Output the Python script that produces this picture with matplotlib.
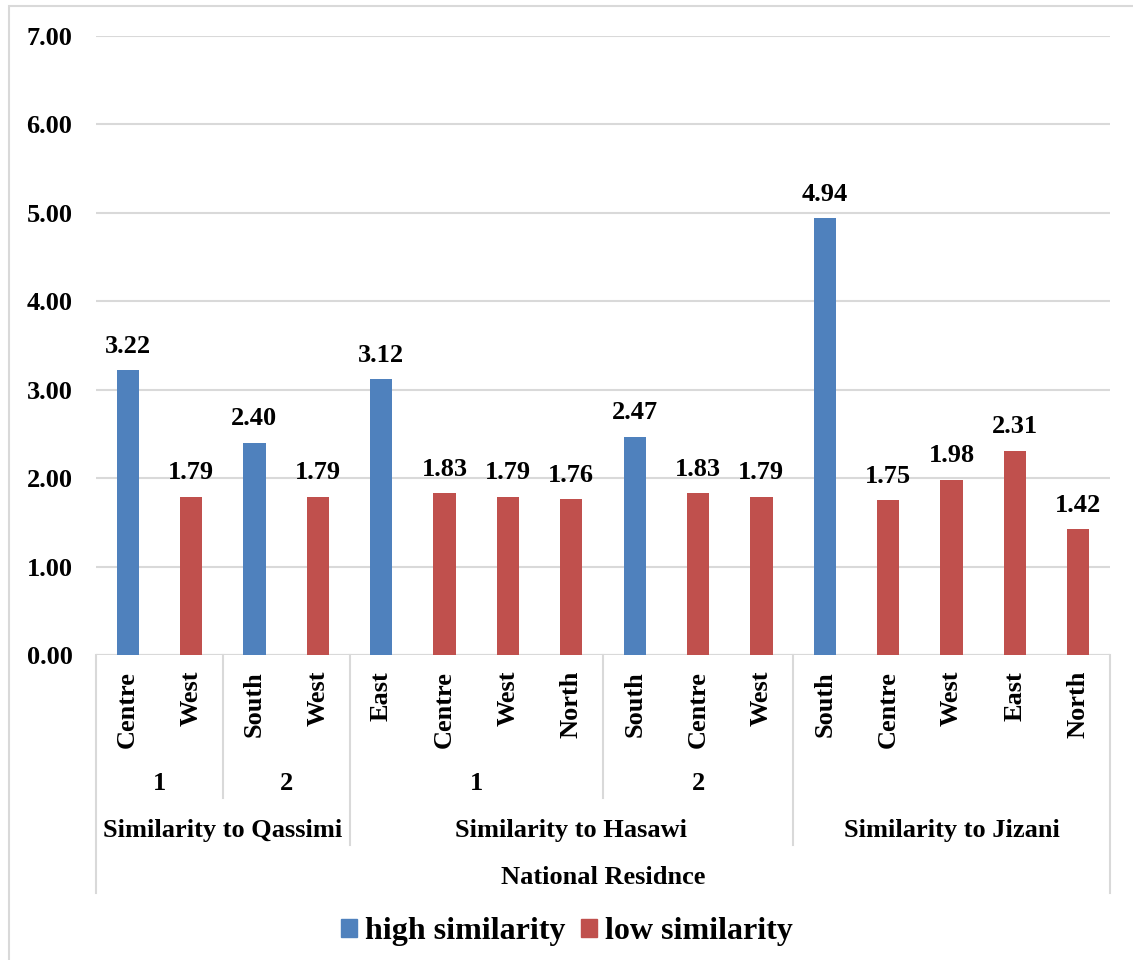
import numpy as np
import matplotlib.pyplot as plt
from matplotlib.lines import Line2D
from matplotlib.patches import Rectangle, Patch

plt.rcParams['font.family'] = ['Liberation Serif', 'DejaVu Serif']
plt.rcParams['font.weight'] = 'bold'

# Leaf categories (residence region) in plotting order
regions = ["Centre", "West", "South", "West",
           "East", "Centre", "West", "North", "South", "Centre", "West",
           "South", "Centre", "West", "East", "North"]
# Sub-group labels: (label, first index, last index)
subgroups = [("1", 0, 1), ("2", 2, 3), ("1", 4, 7), ("2", 8, 10)]
# Main groups: (label, first index, last index)
groups = [("Similarity to Qassimi", 0, 3),
          ("Similarity to Hasawi", 4, 10),
          ("Similarity to Jizani", 11, 15)]
axis_title = "National Residnce"

nan = np.nan
high_similarity = [3.22, nan, 2.40, nan,
                   3.12, nan, nan, nan, 2.47, nan, nan,
                   4.94, nan, nan, nan, nan]
low_similarity = [nan, 1.79, nan, 1.79,
                  nan, 1.83, 1.79, 1.76, nan, 1.83, 1.79,
                  nan, 1.75, 1.98, 2.31, 1.42]

blue = "#4F81BD"
red = "#C0504D"
grid_c = "#D9D9D9"

W, H = 1133, 960
fig = plt.figure(figsize=(W / 100, H / 100), dpi=100)
ax = fig.add_axes([96 / W, 1 - 655 / H, (1110 - 96) / W, (655 - 36) / H])

# outer chart frame
fig.patches.append(Rectangle((9 / W, -0.1), 1.2, 1 - 6 / H + 0.1,
                             transform=fig.transFigure, fill=False,
                             edgecolor=grid_c, lw=1.5))

x = np.arange(len(regions))
hv = np.array(high_similarity, dtype=float)
lv = np.array(low_similarity, dtype=float)
mh = ~np.isnan(hv)
ml = ~np.isnan(lv)
bw = 0.35
bh = ax.bar(x[mh], hv[mh], width=bw, color=blue, zorder=3, label="high similarity")
bl = ax.bar(x[ml], lv[ml], width=bw, color=red, zorder=3, label="low similarity")
for bars in (bh, bl):
    ax.bar_label(bars, labels=[f"{b.get_height():.2f}" for b in bars],
                 padding=9, fontsize=19, fontweight='bold')

ax.set_xlim(-0.5, len(regions) - 0.5)
ax.set_ylim(0, 7)
ax.set_yticks(np.arange(0, 7.01, 1))
ax.set_yticklabels([f"{v:.2f}" for v in np.arange(0, 7.01, 1)])
ax.tick_params(axis='y', length=0, pad=17, labelsize=19)
ax.set_xticks([])
ax.grid(axis='y', color=grid_c, lw=1.5, zorder=0)
for s in ax.spines.values():
    s.set_visible(False)
ax.axhline(0, color=grid_c, lw=1.5, zorder=2)

# hierarchical category axis
tr = ax.get_xaxis_transform()
ph = 655 - 36


def ay(py):
    return (655 - py) / ph


for i, r in enumerate(regions):
    ax.text(i, ay(671), r, rotation=90, ha='center', va='top',
            fontsize=19, fontweight='bold', transform=tr)
for lab, a, b in subgroups:
    ax.text((a + b) / 2, ay(783), lab, ha='center', va='center',
            fontsize=19, fontweight='bold', transform=tr)
for lab, a, b in groups:
    ax.text((a + b) / 2, ay(830), lab, ha='center', va='center',
            fontsize=19, fontweight='bold', transform=tr)
ax.text((len(regions) - 1) / 2, ay(878), axis_title, ha='center', va='center',
        fontsize=19, fontweight='bold', transform=tr)


def vline(xpos, py_end):
    ax.add_line(Line2D([xpos, xpos], [0, ay(py_end)], transform=tr,
                       color=grid_c, lw=1.5, clip_on=False))


vline(-0.5, 893)
vline(len(regions) - 0.5, 893)
group_ends = [g[2] for g in groups]
for lab, a, b in subgroups:
    if b not in group_ends:
        vline(b + 0.5, 798)
for lab, a, b in groups[:-1]:
    vline(b + 0.5, 845)

handles = [Patch(color=blue), Patch(color=red)]
leg = fig.legend(handles, ["high similarity", "low similarity"], loc='center',
                 bbox_to_anchor=(567 / W, 1 - 932 / H), ncol=2, frameon=False,
                 prop={'size': 23, 'weight': 'bold'}, handlelength=0.5,
                 handleheight=0.5, handletextpad=0.25, columnspacing=0.5)
for t in leg.get_texts():
    t.set_fontweight('bold')

fig.savefig("out.png", dpi=100)
